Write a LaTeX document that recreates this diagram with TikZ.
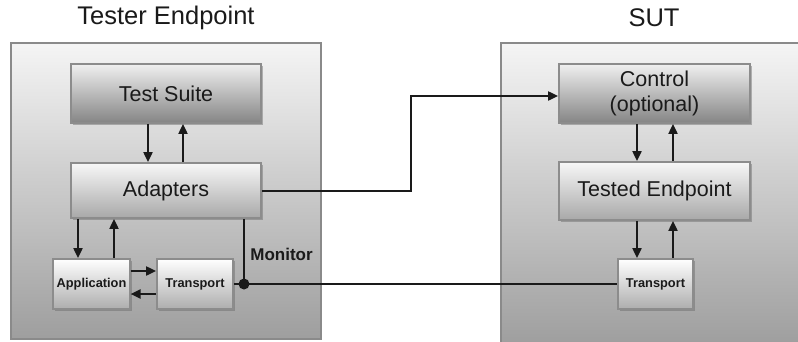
\documentclass[tikz,border=0pt]{standalone}
\usepackage{fontspec}
\setmainfont{Liberation Sans}
\usetikzlibrary{shadows,arrows.meta,calc}
\definecolor{framegray}{HTML}{8A8A8A}
\definecolor{inkgray}{HTML}{1A1A1A}
\tikzset{
  panel/.style={draw=framegray,line width=2.6pt,top color=white!96!black,bottom color=black!38},
  block/.style={draw=black!45,line width=1.8pt,top color=black!6,bottom color=black!48,
    text=inkgray,font=\fontsize{21.5}{24}\selectfont,align=center,
    drop shadow={shadow xshift=2pt,shadow yshift=-2pt,fill=black!60,opacity=0.45}},
  lightblock/.style={block,top color=black!3,bottom color=black!34},
  smallblock/.style={block,top color=white,bottom color=black!32,
    font=\fontsize{12.8}{14}\selectfont\bfseries,minimum width=75pt,minimum height=50pt},
  arr/.style={line width=2pt,draw=inkgray,-{Triangle[length=10pt,width=9pt]}},
  wire/.style={line width=2pt,draw=inkgray},
  title/.style={font=\fontsize{25.5}{28}\selectfont,text=inkgray},
}
\begin{document}
\begin{tikzpicture}[x=1pt,y=-1pt]
\useasboundingbox (0,0) rectangle (798,341);
\fill[white] (0,0) rectangle (798,341);

% the two endpoint frames
\path[panel] (11,43) rectangle (321,339);
\path[panel] (501,43) rectangle (806,345);

\node[title] (ttl) at (166,18) {Tester Endpoint};
\node[title] (stl) at (654,18) {SUT};

% tester side
\node[block,minimum width=190pt,minimum height=59pt] (ts) at (166,93.5) {Test Suite};
\node[lightblock,minimum width=190pt,minimum height=55pt] (ad) at (166,190.5) {Adapters};
\node[smallblock] (app) at (91.5,284) {Application};
\node[smallblock,minimum width=76pt] (tl) at (195,284) {Transport};

% system under test
\node[block,minimum width=191pt,minimum height=59pt] (ctl) at (654.5,93.5) {Control\\[1pt](optional)};
\node[lightblock,minimum width=191pt,minimum height=58pt] (te) at (654.5,191) {Tested Endpoint};
\node[smallblock] (tr) at (655.5,284) {Transport};

% vertical message flows
\draw[arr] ([xshift=-18pt]ts.south) -- ([xshift=-18pt]ad.north);
\draw[arr] ([xshift=17pt]ad.north) -- ([xshift=17pt]ts.south);
\draw[arr] ([xshift=-13.5pt]app.north |- ad.south) -- ([xshift=-13.5pt]app.north);
\draw[arr] ([xshift=22.5pt]app.north) -- ([xshift=22.5pt]app.north |- ad.south);
\draw[arr] ([xshift=-17.5pt]ctl.south) -- ([xshift=-17.5pt]te.north);
\draw[arr] ([xshift=18.5pt]te.north) -- ([xshift=18.5pt]ctl.south);
\draw[arr] ([xshift=-18.5pt]tr.north |- te.south) -- ([xshift=-18.5pt]tr.north);
\draw[arr] ([xshift=17.5pt]tr.north) -- ([xshift=17.5pt]tr.north |- te.south);

% application <-> transport
\draw[arr] ([yshift=13pt]app.east) -- ([yshift=13pt]tl.west);
\draw[arr] ([yshift=-10pt]tl.west) -- ([yshift=-10pt]app.east);

% control channel
\draw[arr] (ad.east) -- ++(149,0) |- ([yshift=-2.5pt]ctl.west);

% transport link with monitor tap
\coordinate (tap) at (244,284);
\draw[wire] (tl.east) -- (tr.west);
\draw[wire] (ad.south -| tap) -- (tap);
\fill[inkgray] (tap) circle (5.5pt);
\node[font=\fontsize{17}{19}\selectfont\bfseries,text=inkgray] (mon) at (281.5,254) {Monitor};
\end{tikzpicture}
\end{document}
